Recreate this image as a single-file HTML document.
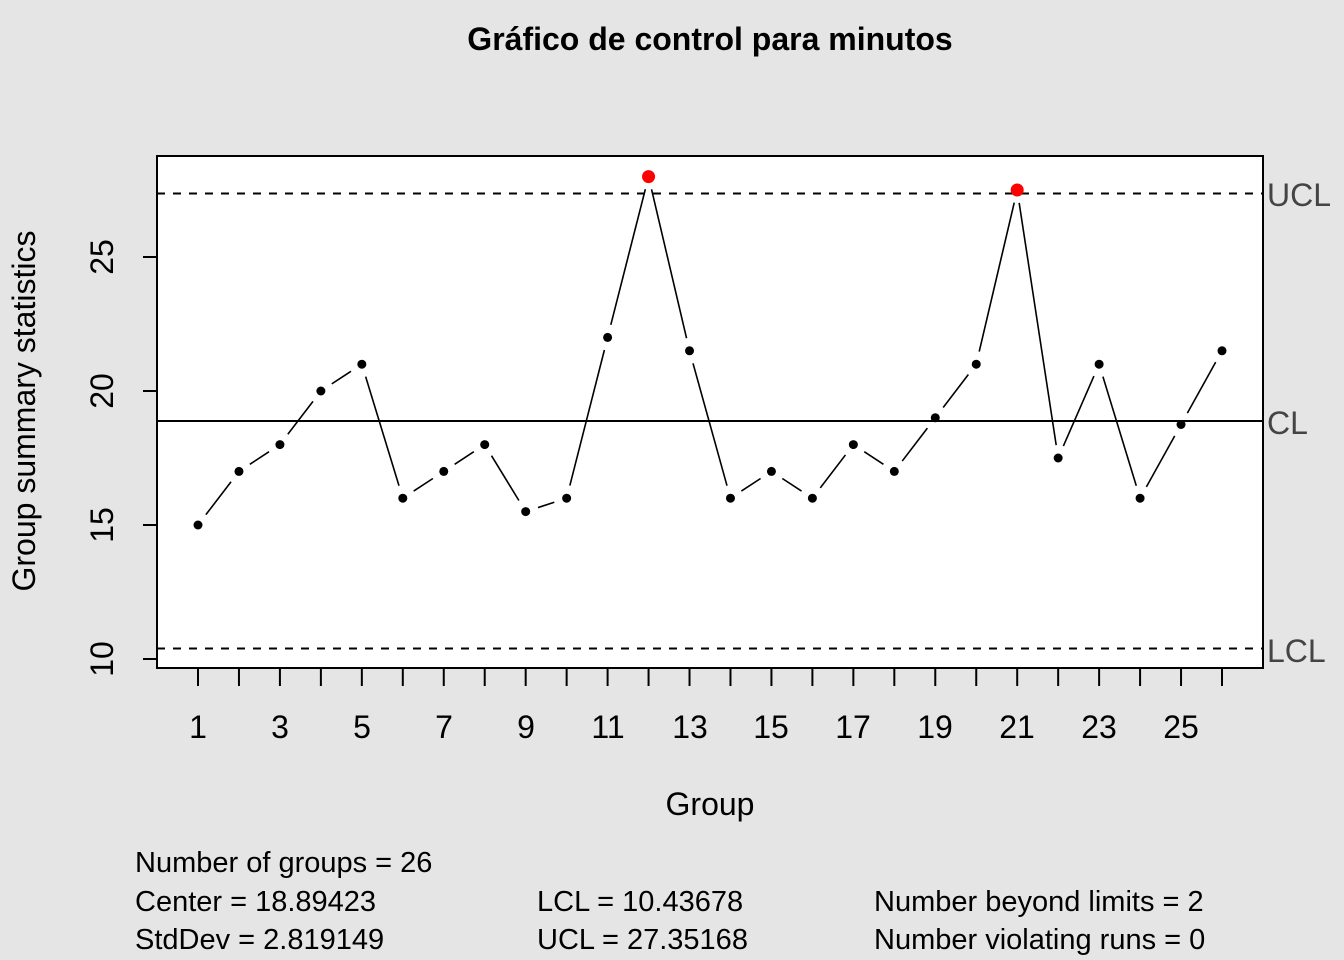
<!DOCTYPE html>
<html><head><meta charset="utf-8"><style>
html,body{margin:0;padding:0;background:#e5e5e5;}
svg{display:block;font-family:"Liberation Sans",Arial,sans-serif;}
</style></head><body>
<svg id="s" width="1344" height="960" viewBox="0 0 1344 960" xmlns="http://www.w3.org/2000/svg">
<rect width="1344" height="960" fill="#e5e5e5"/>
<text x="710" y="50" font-size="32" font-weight="bold" text-anchor="middle">Gráfico de control para minutos</text>
<rect x="157" y="156" width="1106" height="512" fill="#fff" stroke="#000" stroke-width="2"/>
<line x1="157" y1="193.5" x2="1263" y2="193.5" stroke="#000" stroke-width="2" stroke-dasharray="8,8"/>
<line x1="157" y1="421" x2="1263" y2="421" stroke="#000" stroke-width="2"/>
<line x1="157" y1="648.5" x2="1263" y2="648.5" stroke="#000" stroke-width="2" stroke-dasharray="8,8"/>
<g font-size="32" fill="#444">
<text x="1267" y="206">UCL</text>
<text x="1267" y="434">CL</text>
<text x="1267" y="662">LCL</text>
</g>
<g id="yt" stroke="#000" stroke-width="2">
<line x1="143" y1="257" x2="157" y2="257"/>
<line x1="143" y1="391" x2="157" y2="391"/>
<line x1="143" y1="525" x2="157" y2="525"/>
<line x1="143" y1="659" x2="157" y2="659"/>
</g>
<g font-size="32" text-anchor="middle">
<text transform="translate(113,257) rotate(-90)">25</text>
<text transform="translate(113,391) rotate(-90)">20</text>
<text transform="translate(113,525) rotate(-90)">15</text>
<text transform="translate(113,659) rotate(-90)">10</text>
<text transform="translate(35,411) rotate(-90)">Group summary statistics</text>
</g>
<g id="xt" stroke="#000" stroke-width="2"></g>
<g font-size="32" text-anchor="middle">
<text x="198" y="738">1</text><text x="280" y="738">3</text><text x="362" y="738">5</text>
<text x="444" y="738">7</text><text x="526" y="738">9</text><text x="608" y="738">11</text>
<text x="690" y="738">13</text><text x="771" y="738">15</text><text x="853" y="738">17</text>
<text x="935" y="738">19</text><text x="1017" y="738">21</text><text x="1099" y="738">23</text>
<text x="1181" y="738">25</text>
<text x="710" y="815">Group</text>
</g>
<g id="ln" stroke="#000" stroke-width="1.6" fill="none"></g>
<g id="pt"></g>
<g font-size="29">
<text x="135" y="872">Number of groups = 26</text>
<text x="135" y="911">Center = 18.89423</text>
<text x="135" y="949">StdDev = 2.819149</text>
<text x="537" y="911">LCL = 10.43678</text>
<text x="537" y="949">UCL = 27.35168</text>
<text x="874" y="911">Number beyond limits = 2</text>
<text x="874" y="949">Number violating runs = 0</text>
</g>
</svg>
<script>
var d=[15,17,18,20,21,16,17,18,15.5,16,22,28,21.5,16,17,16,18,17,19,21,27.5,17.5,21,16,18.75,21.5];
var N="http://www.w3.org/2000/svg";
function X(i){return 198+i*40.96;}function Y(v){return 659-(v-10)*26.8;}
function el(p,t,a){var e=document.createElementNS(N,t);for(var k in a)e.setAttribute(k,a[k]);document.getElementById(p).appendChild(e);}
for(var i=0;i<26;i++){el('xt','line',{x1:X(i),y1:668,x2:X(i),y2:686});}
for(var i=0;i<25;i++){var x1=X(i),y1=Y(d[i]),x2=X(i+1),y2=Y(d[i+1]);var dx=x2-x1,dy=y2-y1,L=Math.hypot(dx,dy),g=13;
if(L>2*g){el('ln','line',{x1:x1+dx*g/L,y1:y1+dy*g/L,x2:x2-dx*g/L,y2:y2-dy*g/L});}}
for(var i=0;i<26;i++){var out=d[i]>27.35168||d[i]<10.43678;el('pt','circle',{cx:X(i),cy:Y(d[i]),r:out?6.5:4.5,fill:out?'#f00':'#000'});}
</script>
</body></html>
